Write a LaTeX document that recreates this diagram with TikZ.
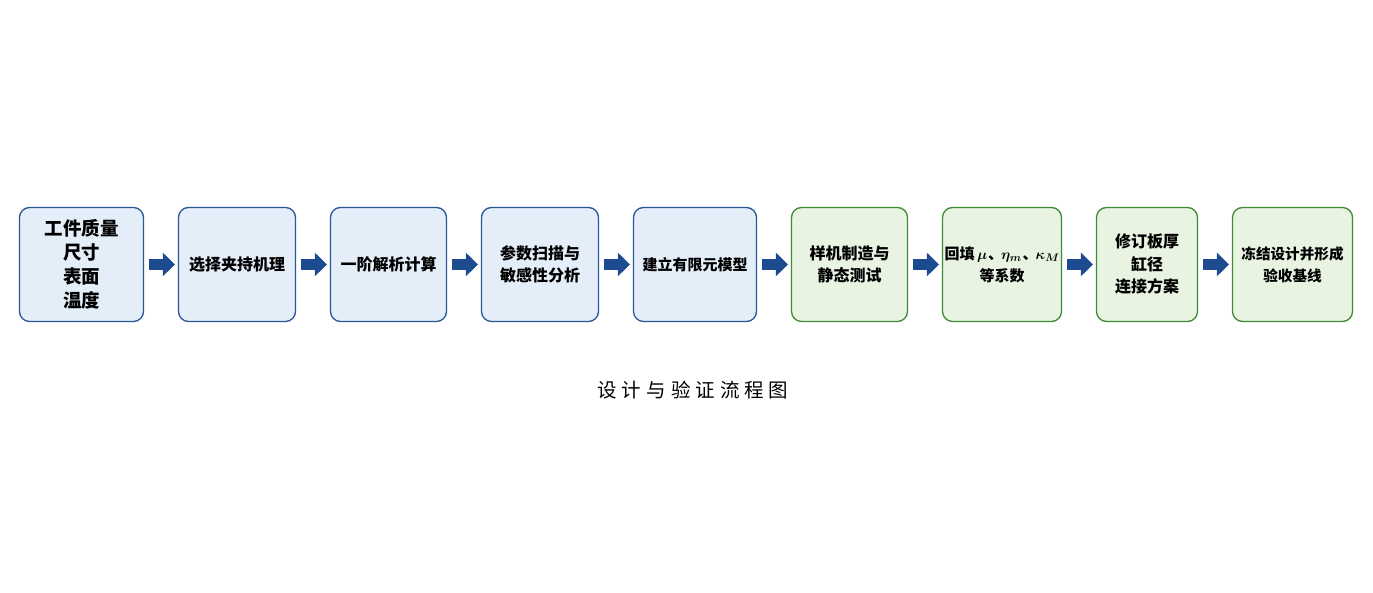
\documentclass[tikz,border=0pt]{standalone}
\usepackage{amsmath}
\usepackage{fontspec}
\setmainfont{Noto Sans CJK SC}
\usepackage{xcolor}
\usepackage{tikz}
\usetikzlibrary{arrows.meta, positioning}

\definecolor{blueline}{HTML}{2A5697}
\definecolor{bluefill}{HTML}{E4EEF9}
\definecolor{greenline}{HTML}{3F8A34}
\definecolor{greenfill}{HTML}{E8F3E2}
\definecolor{arrowblue}{HTML}{1D4B8F}

\newcommand{\dun}{\kern1pt、\kern-2pt}

\begin{document}
\begin{tikzpicture}[
    x=1pt, y=1pt,
    font=\fontsize{16}{22.5}\selectfont\bfseries,
    node distance=33.7pt,
    stage/.style={rectangle, rounded corners=10pt, draw, align=center,
                  minimum height=114pt, inner sep=2pt, line width=1.3pt},
    bluebox/.style={stage, fill=bluefill, draw=blueline},
    greenbox/.style={stage, fill=greenfill, draw=greenline},
    arr/.style={-{Triangle[length=12pt, width=23pt]}, line width=11pt,
                arrowblue, shorten <=5pt, shorten >=3pt},
]
\useasboundingbox (0,0) rectangle (1373,593);

% modelling stages
\node[bluebox, minimum width=124pt, font=\fontsize{18.5}{24}\selectfont\bfseries]
    (b1) at (81.5,328.5) {工件质量\\尺寸\\表面\\温度};
\node[bluebox, minimum width=117pt, right=of b1] (b2) {选择夹持机理};
\node[bluebox, minimum width=116pt, right=of b2] (b3) {一阶解析计算};
\node[bluebox, minimum width=117pt, right=of b3] (b4) {参数扫描与\\敏感性分析};
\node[bluebox, minimum width=123pt, right=of b4,
      font=\fontsize{15}{22}\selectfont\bfseries] (b5) {建立有限元模型};

% verification stages
\node[greenbox, minimum width=116pt, right=of b5] (b6) {样机制造与\\静态测试};
\node[greenbox, minimum width=117pt, right=of b6,
      font=\fontsize{15}{22}\selectfont\bfseries] (b7)
    {回填\,{\boldmath$\mu$}\dun{\boldmath$\eta_m$}\dun{\boldmath$\kappa_M$}\\等系数};
\node[greenbox, minimum width=101pt, right=of b7] (b8) {修订板厚\\缸径\\连接方案};
\node[greenbox, minimum width=120pt, right=of b8,
      font=\fontsize{14.6}{22}\selectfont\bfseries] (b9) {冻结设计并形成\\验收基线};

\foreach \a/\b in {b1/b2, b2/b3, b3/b4, b4/b5, b5/b6, b6/b7, b7/b8, b8/b9}
    \draw[arr] (\a.east) -- (\b.west);

\node[font=\fontsize{19.5}{22}\selectfont, text=black] (cap) at (693,203)
    {设\hspace{5pt}计\hspace{5pt}与\hspace{5pt}验\hspace{5pt}证\hspace{5pt}流\hspace{5pt}程\hspace{5pt}图};
\end{tikzpicture}
\end{document}
